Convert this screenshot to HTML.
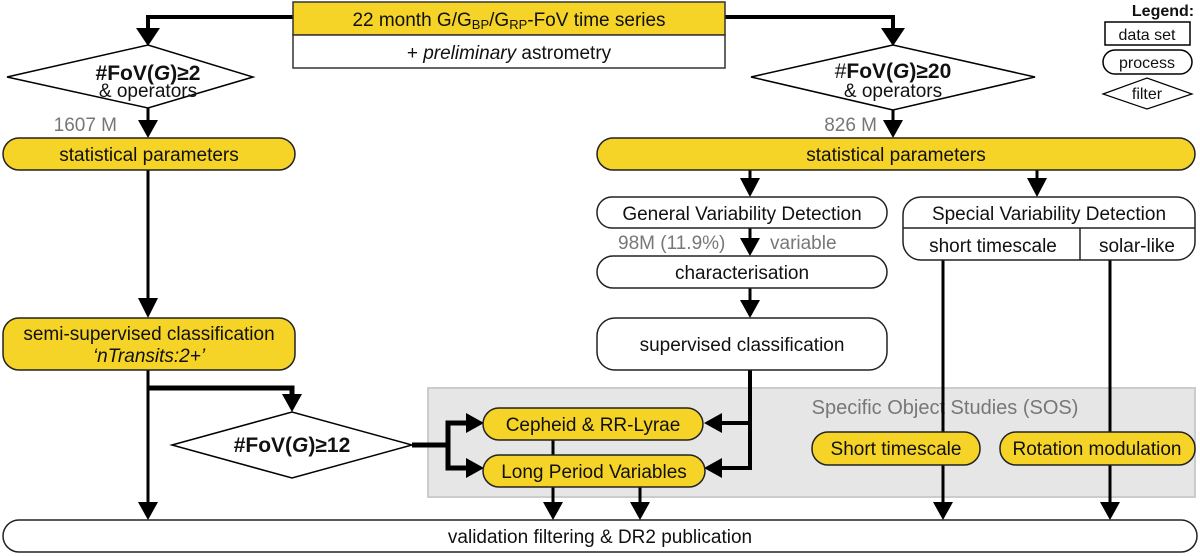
<!DOCTYPE html>
<html><head><meta charset="utf-8"><style>
html,body{margin:0;padding:0;background:#fff}
svg{display:block}
text{font-family:"Liberation Sans",sans-serif;font-size:19px;fill:#111}
.g{fill:#777}
</style></head><body>
<svg width="1200" height="556" viewBox="0 0 1200 556" xmlns="http://www.w3.org/2000/svg">
<rect x="428" y="388" width="767" height="109" fill="#e6e6e6" stroke="#ccc" stroke-width="2"/>
<text x="945" y="414" text-anchor="middle" class="g" style="font-size:20px">Specific Object Studies (SOS)</text>

<g stroke="#000" stroke-width="4" fill="none">
<polyline points="293,17 148,17 148,30"/>
<polyline points="725,17 893,17 893,30"/>
</g>
<g fill="#000">
<path d="M136,28 L160,28 L148,46z"/>
<path d="M881,28 L905,28 L893,46z"/>
</g>

<g stroke="#000" stroke-width="3" fill="none">
<line x1="148" y1="108" x2="148" y2="124"/>
<line x1="893" y1="110" x2="893" y2="124"/>
<line x1="148" y1="170" x2="148" y2="300"/>
<line x1="148" y1="370" x2="148" y2="502"/>
<polyline points="148,388 292,388 292,396" stroke-width="5"/>
<polyline points="412,445 448,445 448,423 470,423" stroke-width="5"/>
<polyline points="448,445 448,468 470,468" stroke-width="5"/>
<line x1="750" y1="170" x2="750" y2="182"/>
<line x1="1037" y1="170" x2="1037" y2="182"/>
<line x1="750" y1="228" x2="750" y2="242"/>
<line x1="750" y1="288" x2="750" y2="302"/>
<polyline points="750,370 750,468 718,468" stroke-width="4"/>
<line x1="750" y1="423" x2="718" y2="423" stroke-width="4"/>
<line x1="553" y1="440" x2="553" y2="455"/>
<line x1="553" y1="487" x2="553" y2="504"/>
<line x1="640" y1="487" x2="640" y2="504"/>
<line x1="943" y1="260" x2="943" y2="504"/>
<line x1="1110" y1="260" x2="1110" y2="504"/>
</g>
<g fill="#000">
<path d="M138,120 L158,120 L148,138z"/>
<path d="M883,120 L903,120 L893,138z"/>
<path d="M138,298 L158,298 L148,318z"/>
<path d="M138,502 L158,502 L148,520z"/>
<path d="M282,394 L302,394 L292,412z"/>
<path d="M466,413 L484,423 L466,433z"/>
<path d="M466,458 L484,468 L466,478z"/>
<path d="M722,413 L704,423 L722,433z"/>
<path d="M722,458 L704,468 L722,478z"/>
<path d="M740,178 L760,178 L750,197z"/>
<path d="M1027,178 L1047,178 L1037,197z"/>
<path d="M740,238 L760,238 L750,256z"/>
<path d="M740,300 L760,300 L750,318z"/>
<path d="M543,502 L563,502 L553,520z"/>
<path d="M630,502 L650,502 L640,520z"/>
<path d="M933,502 L953,502 L943,520z"/>
<path d="M1100,502 L1120,502 L1110,520z"/>
</g>

<rect x="293" y="2" width="432" height="33" fill="#f5d327" stroke="#333" stroke-width="1.5"/>
<rect x="293" y="35" width="432" height="33" fill="#fff" stroke="#333" stroke-width="1.5"/>
<text x="509" y="26" text-anchor="middle">22 month G/G<tspan style="font-size:13px" dy="3">BP</tspan><tspan dy="-3">/G</tspan><tspan style="font-size:13px" dy="3">RP</tspan><tspan dy="-3">-FoV time series</tspan></text>
<text x="509" y="59" text-anchor="middle">+ <tspan font-style="italic">preliminary</tspan> astrometry</text>

<path d="M7,77 L148,45 L253,77 L148,108z" fill="#fff" stroke="#000" stroke-width="1.5"/>
<text x="148" y="80" text-anchor="middle" style="font-weight:bold;font-size:21px">#FoV(<tspan font-style="italic">G</tspan>)≥2</text>
<text x="148" y="97" text-anchor="middle">&amp; operators</text>
<path d="M751,77 L893,45 L1035,77 L893,110z" fill="#fff" stroke="#000" stroke-width="1.5"/>
<text x="893" y="78" text-anchor="middle" style="font-size:21px">#<tspan font-weight="bold">FoV(<tspan font-style="italic">G</tspan>)≥20</tspan></text>
<text x="893" y="97" text-anchor="middle">&amp; operators</text>
<path d="M172,445 L292,412 L412,445 L292,478z" fill="#fff" stroke="#000" stroke-width="1.5"/>
<text x="292" y="452" text-anchor="middle" style="font-weight:bold;font-size:21px">#FoV(<tspan font-style="italic">G</tspan>)≥12</text>

<text x="117" y="131" text-anchor="end" class="g">1607 M</text>
<text x="877" y="131" text-anchor="end" class="g">826 M</text>

<g stroke="#222" stroke-width="1.5">
<rect x="3" y="138" width="292" height="32" rx="16" fill="#f5d327"/>
<rect x="597" y="138" width="598" height="32" rx="16" fill="#f5d327"/>
<rect x="3" y="318" width="292" height="52" rx="16" fill="#f5d327"/>
<rect x="597" y="197" width="290" height="31" rx="15" fill="#fff"/>
<rect x="597" y="256" width="290" height="32" rx="16" fill="#fff"/>
<rect x="597" y="318" width="290" height="52" rx="18" fill="#fff"/>
<rect x="903" y="197" width="292" height="63" rx="18" fill="#fff"/>
<line x1="903" y1="228" x2="1195" y2="228"/>
<line x1="1080" y1="228" x2="1080" y2="260"/>
<rect x="483" y="408" width="220" height="32" rx="16" fill="#f5d327"/>
<rect x="483" y="455" width="222" height="32" rx="16" fill="#f5d327"/>
<rect x="812" y="432" width="168" height="33" rx="16" fill="#f5d327"/>
<rect x="1000" y="432" width="195" height="33" rx="16" fill="#f5d327"/>
<rect x="3" y="520" width="1194" height="32" rx="16" fill="#fff"/>
</g>
<text x="149" y="161" text-anchor="middle">statistical parameters</text>
<text x="896" y="161" text-anchor="middle">statistical parameters</text>
<text x="149" y="340" text-anchor="middle">semi-supervised classification</text>
<text x="149" y="362" text-anchor="middle" font-style="italic">‘nTransits:2+’</text>
<text x="742" y="220" text-anchor="middle">General Variability Detection</text>
<text x="618" y="249" class="g">98M (11.9%)</text>
<text x="770" y="249" class="g">variable</text>
<text x="742" y="279" text-anchor="middle">characterisation</text>
<text x="742" y="351" text-anchor="middle">supervised classification</text>
<text x="1049" y="220" text-anchor="middle">Special Variability Detection</text>
<text x="993" y="252" text-anchor="middle">short timescale</text>
<text x="1137" y="252" text-anchor="middle">solar-like</text>
<text x="593" y="431" text-anchor="middle">Cepheid &amp; RR-Lyrae</text>
<text x="594" y="478" text-anchor="middle">Long Period Variables</text>
<text x="896" y="455" text-anchor="middle">Short timescale</text>
<text x="1097" y="455" text-anchor="middle">Rotation modulation</text>
<text x="600" y="543" text-anchor="middle" style="font-size:19px">validation filtering &amp; DR2 publication</text>

<text x="1163" y="16" text-anchor="middle" style="font-weight:bold;font-size:16px">Legend:</text>
<rect x="1105" y="22" width="85" height="23" fill="#fff" stroke="#000" stroke-width="1.5"/>
<text x="1147" y="40" text-anchor="middle" style="font-size:16px">data set</text>
<rect x="1103" y="50" width="89" height="24" rx="12" fill="#fff" stroke="#000" stroke-width="1.5"/>
<text x="1147" y="68" text-anchor="middle" style="font-size:16px">process</text>
<path d="M1103,94 L1147,78 L1192,94 L1147,109z" fill="#fff" stroke="#000" stroke-width="1.2"/>
<text x="1147" y="99" text-anchor="middle" style="font-size:16px">filter</text>
</svg>
</body></html>
